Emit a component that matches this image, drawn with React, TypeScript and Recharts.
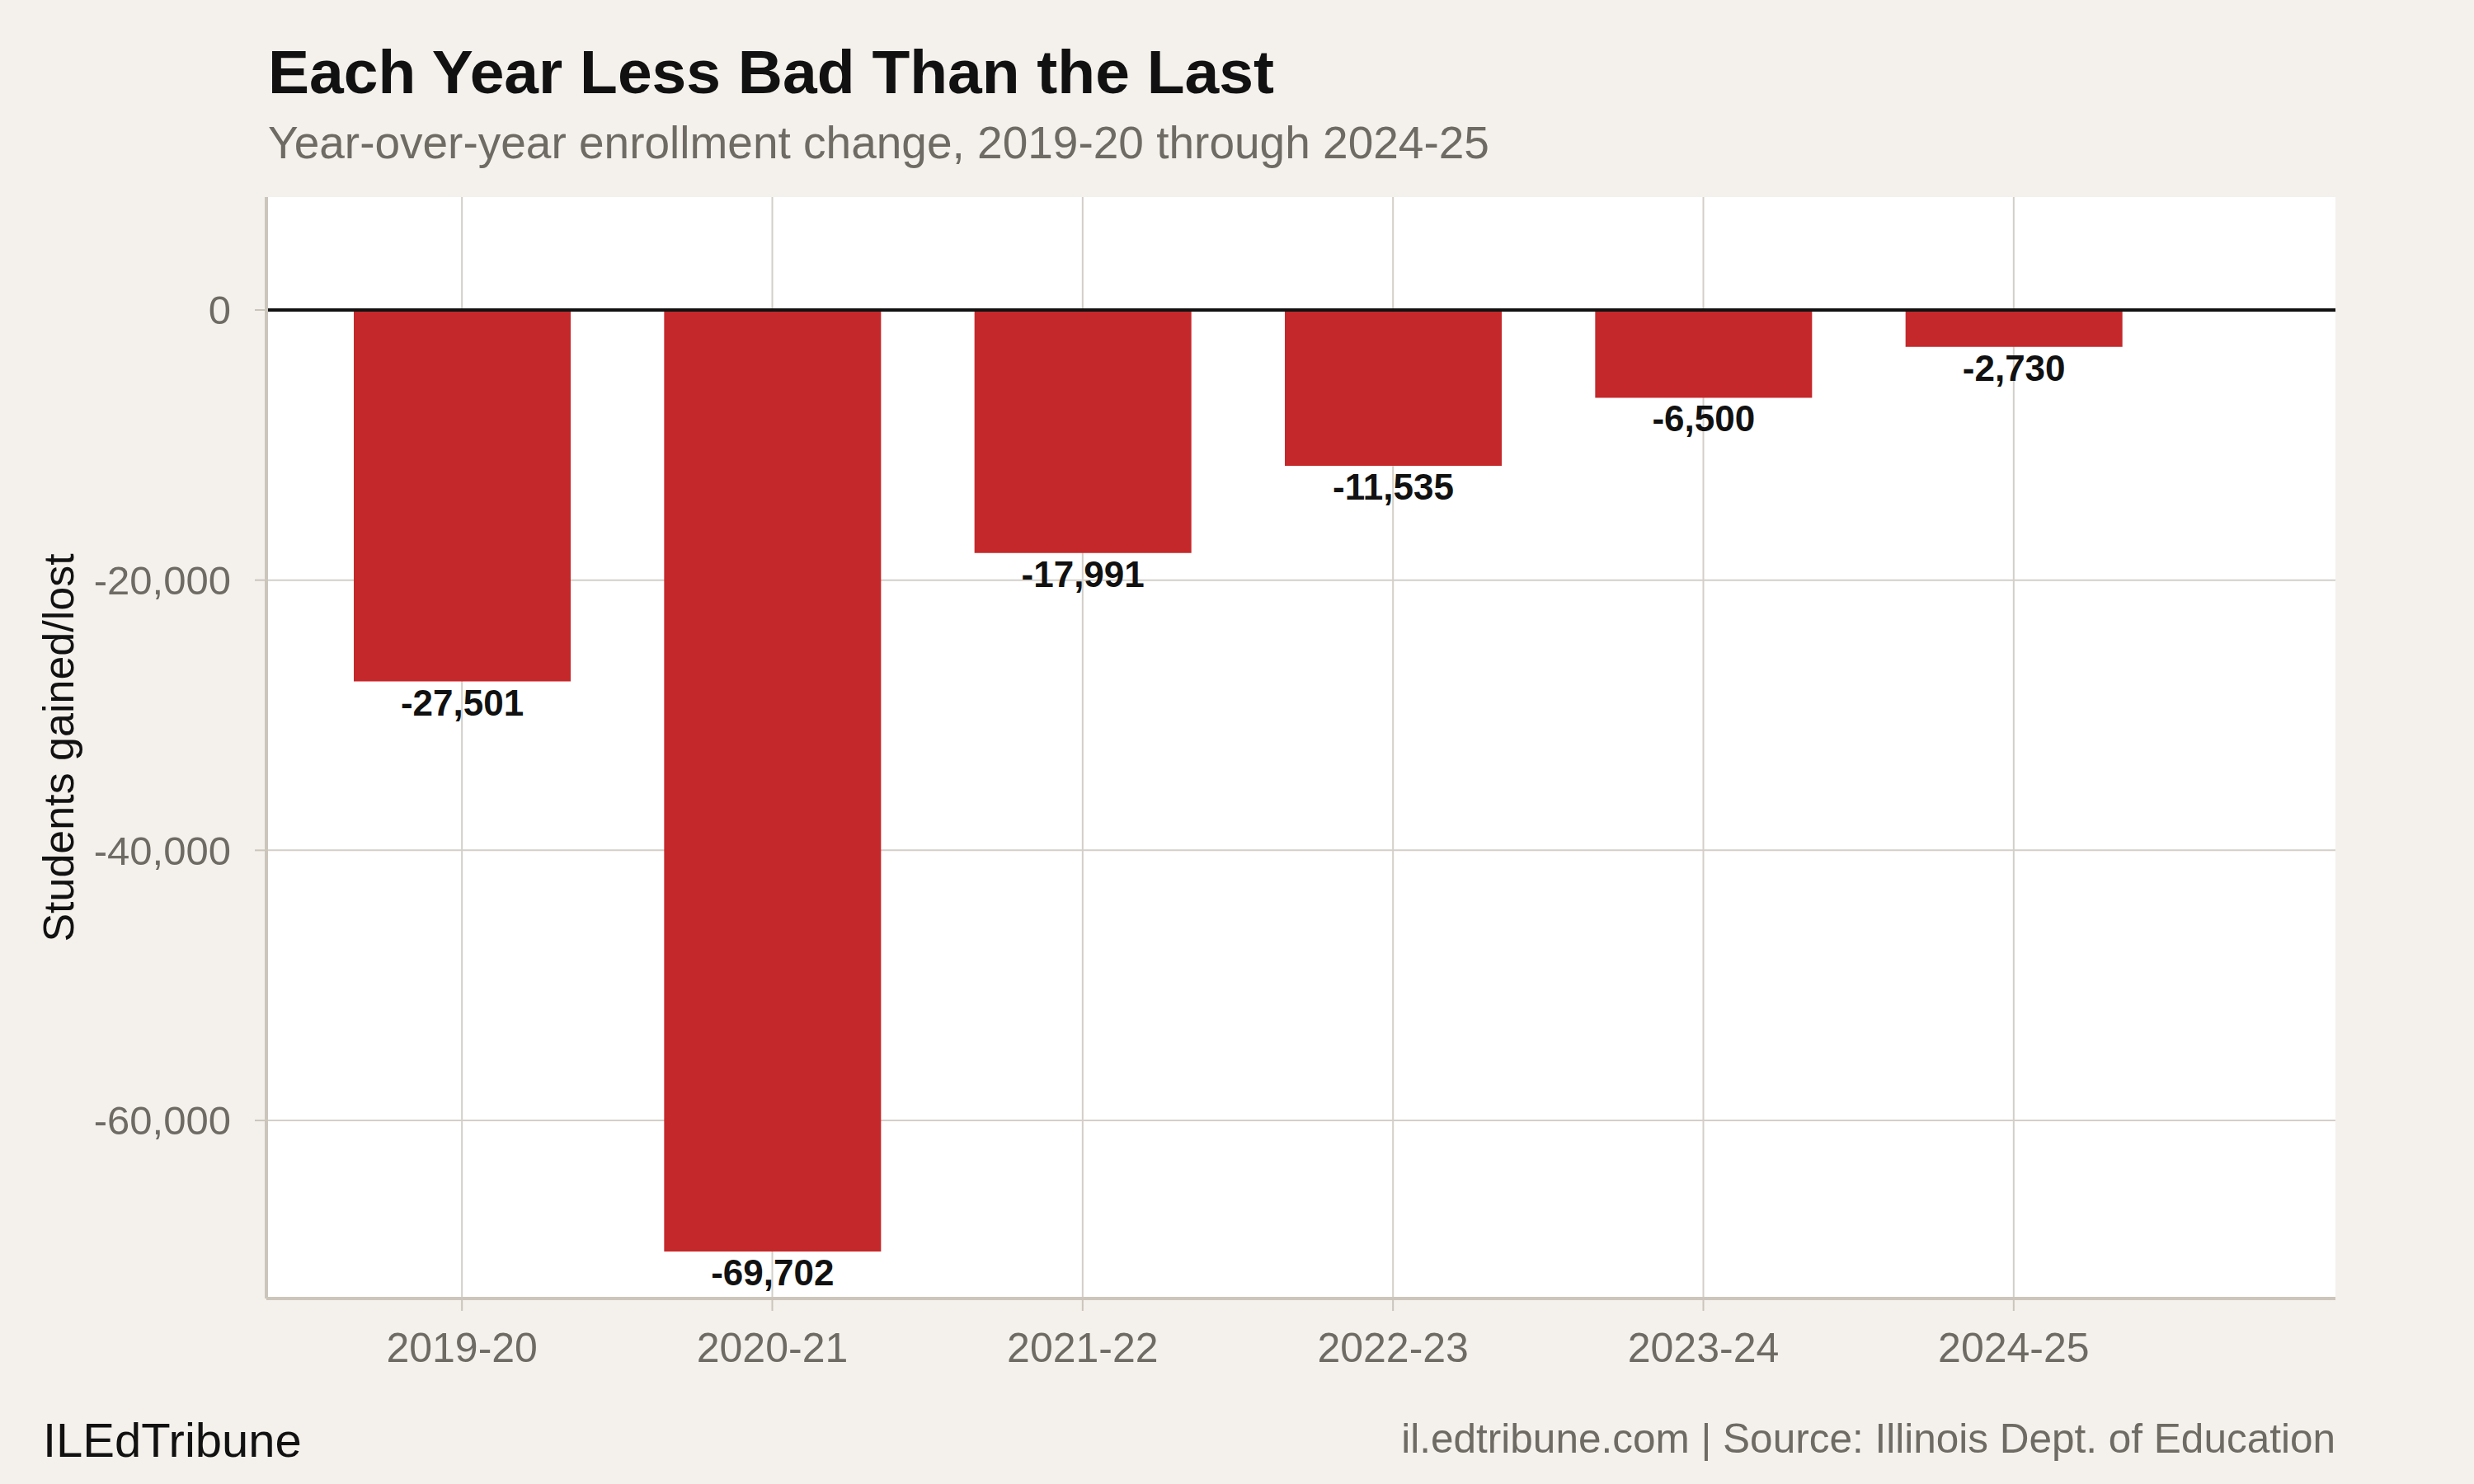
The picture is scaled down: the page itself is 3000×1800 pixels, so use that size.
import React from 'react';
import { BarChart, Bar, XAxis, YAxis, CartesianGrid, ReferenceLine, LabelList } from 'recharts';

const years = ['2019-20', '2020-21', '2021-22', '2022-23', '2023-24', '2024-25'];
const changes = [-27501, -69702, -17991, -11535, -6500, -2730];
const yTicks = [0, -20000, -40000, -60000];

const TITLE = 'Each Year Less Bad Than the Last';
const SUBTITLE = 'Year-over-year enrollment change, 2019-20 through 2024-25';
const Y_LABEL = 'Students gained/lost';
const BRAND = 'ILEdTribune';
const SOURCE = 'il.edtribune.com | Source: Illinois Dept. of Education';

const data = years.map((year, i) => ({ year, change: changes[i] }));

const FONT = '"Liberation Sans", Arial, Helvetica, sans-serif';
const BG = '#f4f1ec';
const GRAY_TEXT = '#6e6a64';
const BAR = '#c5282a';
const GRID = '#d3cfc8';
const AXIS = '#cbc5bb';

const fmt = (v: number) => v.toLocaleString('en-US');

const BarValueLabel = (props: any) => {
  const { x, y, width, height, value } = props;
  const bottom = Math.max(y, y + height);
  return (
    <text
      x={x + width / 2}
      y={bottom + 41}
      textAnchor="middle"
      fontFamily={FONT}
      fontWeight="bold"
      fontSize={44}
      fill="#111"
    >
      {fmt(value)}
    </text>
  );
};

export default function App() {
  return (
    <div style={{ position: 'absolute', left: 0, top: 0, width: 3000, height: 1800, background: BG, fontFamily: FONT }}>
      <style>{`body{margin:0;}`}</style>
      <div style={{ position: 'absolute', left: 0, top: 0 }}>
        <BarChart
          width={3000}
          height={1800}
          data={data}
          margin={{ top: 239, right: 168, bottom: 125, left: 0 }}
        >
          <CartesianGrid stroke={GRID} strokeWidth={2} fill="#ffffff" syncWithTicks />
          <XAxis
            dataKey="year"
            type="category"
            height={100}
            padding={{ left: 49, right: 202 }}
            axisLine={{ stroke: AXIS, strokeWidth: 4 }}
            tickLine={{ stroke: AXIS, strokeWidth: 2 }}
            tickSize={15}
            tickMargin={26}
            tick={{ fill: GRAY_TEXT, fontSize: 50, fontFamily: FONT }}
            interval={0}
          />
          <YAxis
            type="number"
            width={323}
            domain={[-73180, 8360]}
            ticks={yTicks}
            allowDataOverflow
            axisLine={{ stroke: AXIS, strokeWidth: 4 }}
            tickLine={{ stroke: AXIS, strokeWidth: 2 }}
            tickSize={14}
            tickMargin={29}
            tickFormatter={fmt}
            tick={{ fill: GRAY_TEXT, fontSize: 49, fontFamily: FONT }}
          />
          <Bar dataKey="change" fill={BAR} barSize={263} isAnimationActive={false}>
            <LabelList dataKey="change" content={BarValueLabel} />
          </Bar>
          <ReferenceLine y={0} stroke="#111" strokeWidth={4} />
        </BarChart>
      </div>
      <svg
        width={3000}
        height={1800}
        style={{ position: 'absolute', left: 0, top: 0, pointerEvents: 'none' }}
      >
        <text x={325} y={113} fontFamily={FONT} fontWeight="bold" fontSize={75} fill="#111">
          {TITLE}
        </text>
        <text x={325} y={192} fontFamily={FONT} fontSize={55} fill={GRAY_TEXT}>
          {SUBTITLE}
        </text>
        <text
          transform="translate(89,907) rotate(-90)"
          textAnchor="middle"
          fontFamily={FONT}
          fontSize={52}
          fill="#111"
        >
          {Y_LABEL}
        </text>
        <text x={52} y={1767} fontFamily={FONT} fontSize={58} fill="#111">
          {BRAND}
        </text>
        <text x={2832} y={1762} textAnchor="end" fontFamily={FONT} fontSize={49.5} fill={GRAY_TEXT}>
          {SOURCE}
        </text>
      </svg>
    </div>
  );
}
